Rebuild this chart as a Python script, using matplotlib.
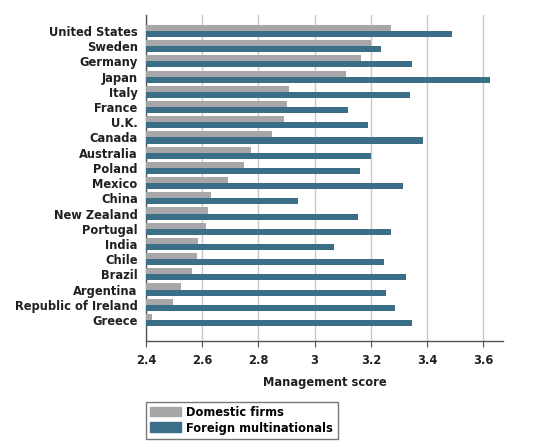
import matplotlib
matplotlib.use('Agg')
import numpy as np
import matplotlib.pyplot as plt
from matplotlib.patches import Patch

countries = ['United States', 'Sweden', 'Germany', 'Japan', 'Italy', 'France', 'U.K.',
             'Canada', 'Australia', 'Poland', 'Mexico', 'China', 'New Zealand', 'Portugal',
             'India', 'Chile', 'Brazil', 'Argentina', 'Republic of Ireland', 'Greece']
domestic = [3.27, 3.20, 3.165, 3.11, 2.91, 2.90, 2.89, 2.85, 2.775, 2.75, 2.69, 2.63,
            2.62, 2.615, 2.585, 2.58, 2.565, 2.525, 2.495, 2.42]
foreign = [3.49, 3.235, 3.345, 3.625, 3.34, 3.12, 3.19, 3.385, 3.20, 3.16, 3.315, 2.94,
           3.155, 3.27, 3.07, 3.245, 3.325, 3.255, 3.285, 3.345]
xticks = [2.4, 2.6, 2.8, 3.0, 3.2, 3.4, 3.6]
xticklabels = ['2.4', '2.6', '2.8', '3', '3.2', '3.4', '3.6']

grey = '#a7a7a9'
blue = '#3b6e87'
plt.rcParams['font.family'] = ['DejaVu Sans']
plt.rcParams['font.stretch'] = 'condensed'
plt.rcParams['font.weight'] = 'bold'
plt.rcParams['axes.labelweight'] = 'bold'

fs = 9.2
fig = plt.figure(figsize=(5.45, 4.47), dpi=100)
ax = fig.add_axes([146/545, 1 - 341/447, (503-146)/545, (341-15)/447])

y = np.arange(len(countries))
h = 0.4
ax.barh(y - h/2, [d - 2.4 for d in domestic], left=2.4, height=h, color=grey, zorder=3)
ax.barh(y + h/2, [f - 2.4 for f in foreign], left=2.4, height=h, color=blue, zorder=3)

ax.set_ylim(len(countries) - 1 + 1.38, -1.05)
ax.set_xlim(2.4, 3.67)
ax.set_yticks(y)
ax.set_yticklabels(countries, fontsize=fs, color='#231f20')
ax.tick_params(axis='y', length=0, pad=6)
ax.set_xticks(xticks)
ax.set_xticklabels(xticklabels, fontsize=fs, color='#231f20')
ax.tick_params(axis='x', length=4, color='#555555', pad=5)
ax.grid(axis='x', color='#c8c8c8', linewidth=1, zorder=0)
for s in ['top', 'right']:
    ax.spines[s].set_visible(False)
for s in ['left', 'bottom']:
    ax.spines[s].set_color('#555555')
    ax.spines[s].set_linewidth(1)
ax.set_xlabel('Management score', fontsize=fs, color='#231f20', labelpad=7)

handles = [Patch(color=grey, label='Domestic firms'), Patch(color=blue, label='Foreign multinationals')]
leg = fig.legend(handles=handles, loc='lower left', bbox_to_anchor=(146/545, 1 - 439/447),
                 fontsize=fs, frameon=True, fancybox=False, handlelength=2.4, handleheight=0.8,
                 handletextpad=0.4, labelspacing=0.2, borderpad=0.35, borderaxespad=0)
leg.get_frame().set_edgecolor('#555555')
leg.get_frame().set_linewidth(1)

fig.savefig('out.png', dpi=100)
